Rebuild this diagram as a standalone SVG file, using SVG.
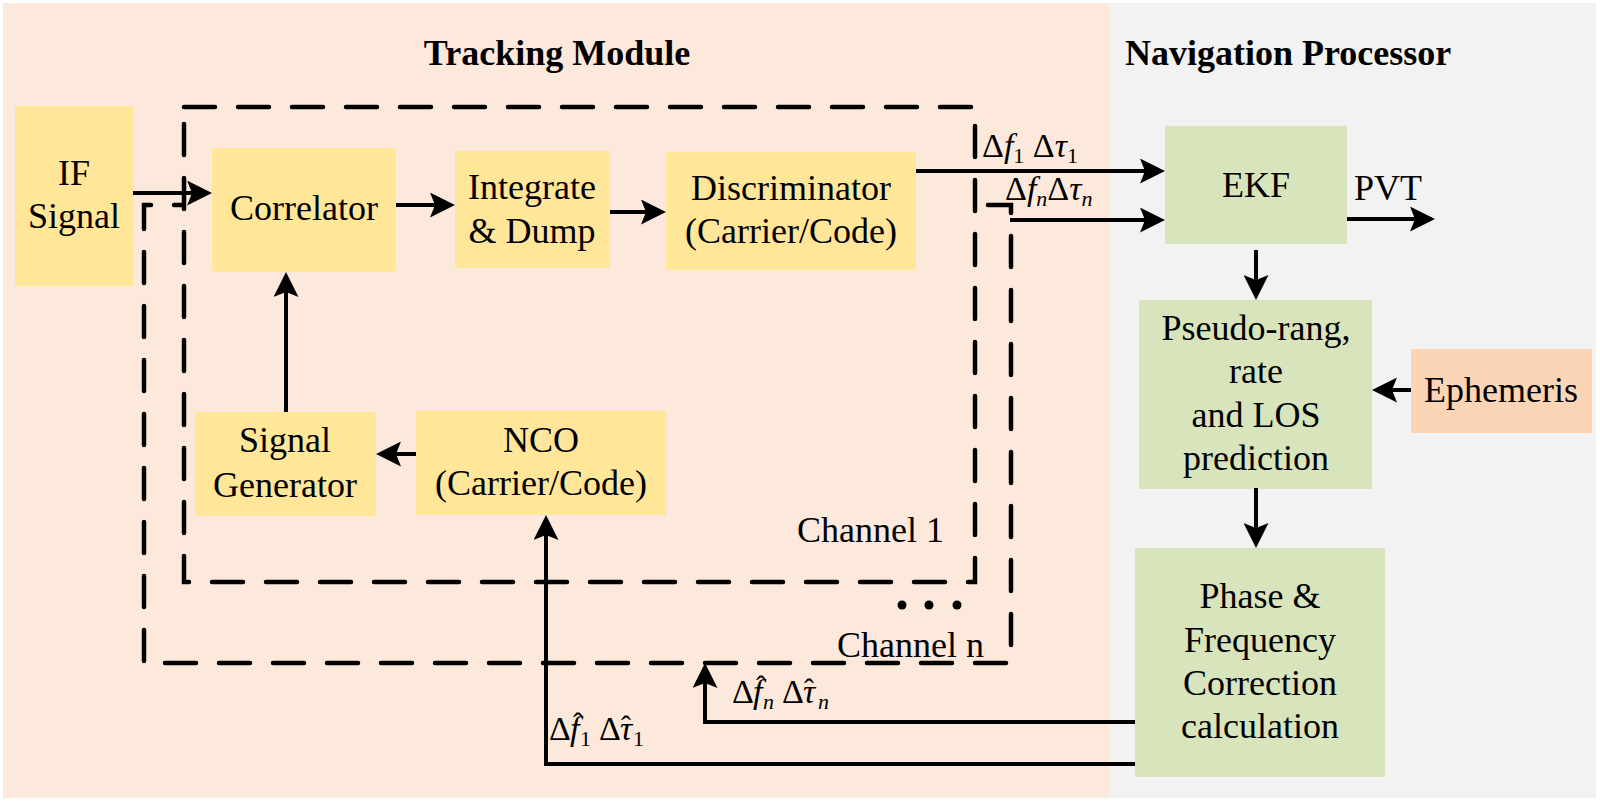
<svg xmlns="http://www.w3.org/2000/svg" width="1600" height="801" viewBox="0 0 1600 801">
<style>
text{font-family:"Liberation Serif","Times New Roman",serif;font-size:36px;fill:#000}
.t{text-anchor:middle}
.title{font-weight:bold;font-size:36px}
.y{fill:#FFE699}
.g{fill:#D8E4BC}
.o{fill:#FBD5B5}
.c{fill:none;stroke:#000;stroke-width:4}
.d{fill:none;stroke:#000;stroke-width:4.5;stroke-dasharray:31 23;stroke-linecap:round}
.m{font-size:34px}
.i{font-style:italic}
.s{font-size:22px}
.h{font-size:30px}
</style>
<defs>
<marker id="ah" viewBox="0 0 25 25" refX="21" refY="12.5" markerWidth="25" markerHeight="25" markerUnits="userSpaceOnUse" orient="auto">
<path d="M0,0 L25,12.5 L0,25 L5,12.5 z" fill="#000"/>
</marker>
</defs>
<rect x="0" y="0" width="1600" height="801" fill="#FFFFFF"/>
<rect x="3" y="3" width="1106" height="795" fill="#FDE9DB"/>
<rect x="1109" y="3" width="487" height="795" fill="#F2F2F2"/>
<text class="title t" x="557" y="65">Tracking Module</text>
<text class="title" x="1125" y="65">Navigation Processor</text>

<g id="channel-frames">
<path class="d" d="M988,205 H1011 V663 H144 V205 H183"/>
<rect class="d" x="184" y="107" width="791" height="475"/>
<circle cx="902" cy="605" r="4.5"/>
<circle cx="929" cy="605" r="4.5"/>
<circle cx="957" cy="605" r="4.5"/>
<text x="797" y="542">Channel 1</text>
<text x="837" y="657">Channel n</text>
</g>

<g id="if-signal">
<rect class="y" x="15" y="106" width="118" height="180"/>
<text class="t" x="74" y="185">IF</text>
<text class="t" x="74" y="228">Signal</text>
</g>
<g id="correlator">
<rect class="y" x="212" y="148" width="184" height="124" rx="3"/>
<text class="t" x="304" y="220">Correlator</text>
</g>
<g id="integrate-dump">
<rect class="y" x="455" y="151" width="155" height="117"/>
<text class="t" x="532" y="199">Integrate</text>
<text class="t" x="532" y="243">&amp; Dump</text>
</g>
<g id="discriminator">
<rect class="y" x="666" y="152" width="250" height="118"/>
<text class="t" x="791" y="200">Discriminator</text>
<text class="t" x="791" y="243">(Carrier/Code)</text>
</g>
<g id="signal-generator">
<rect class="y" x="195" y="412" width="181" height="104"/>
<text class="t" x="285" y="452">Signal</text>
<text class="t" x="285" y="497">Generator</text>
</g>
<g id="nco">
<rect class="y" x="416" y="411" width="250" height="104"/>
<text class="t" x="541" y="452">NCO</text>
<text class="t" x="541" y="495">(Carrier/Code)</text>
</g>
<g id="ekf">
<rect class="g" x="1165" y="126" width="182" height="118"/>
<text class="t" x="1256" y="197">EKF</text>
</g>
<g id="pseudo-range">
<rect class="g" x="1139" y="300" width="233" height="189"/>
<text class="t" x="1256" y="340">Pseudo-rang,</text>
<text class="t" x="1256" y="383">rate</text>
<text class="t" x="1256" y="427">and LOS</text>
<text class="t" x="1256" y="470">prediction</text>
</g>
<g id="ephemeris">
<rect class="o" x="1411" y="349" width="181" height="84"/>
<text class="t" x="1501" y="402">Ephemeris</text>
</g>
<g id="correction">
<rect class="g" x="1135" y="548" width="250" height="229"/>
<text class="t" x="1260" y="608">Phase &amp;</text>
<text class="t" x="1260" y="652">Frequency</text>
<text class="t" x="1260" y="695">Correction</text>
<text class="t" x="1260" y="738">calculation</text>
</g>

<g id="connectors">
<path class="c" marker-end="url(#ah)" d="M133,193 H208"/>
<path class="c" marker-end="url(#ah)" d="M396,205 H451"/>
<path class="c" marker-end="url(#ah)" d="M610,212 H662"/>
<path class="c" marker-end="url(#ah)" d="M916,171 H1161"/>
<path class="c" marker-end="url(#ah)" d="M1010,220 H1161"/>
<path class="c" marker-end="url(#ah)" d="M1347,219 H1431"/>
<path class="c" marker-end="url(#ah)" d="M1256,250 V296"/>
<path class="c" marker-end="url(#ah)" d="M1411,390 H1376"/>
<path class="c" marker-end="url(#ah)" d="M1256,488 V544"/>
<path class="c" marker-end="url(#ah)" d="M1135,764 H546 V519"/>
<path class="c" marker-end="url(#ah)" d="M1135,722 H705 V667"/>
<path class="c" marker-end="url(#ah)" d="M416,454 H380"/>
<path class="c" marker-end="url(#ah)" d="M286,412 V276"/>
<text class="t" x="1388" y="200">PVT</text>
<text class="m" x="982" y="157">Δ<tspan class="i">f</tspan><tspan class="s" dy="6">1</tspan><tspan dy="-6"> Δ</tspan><tspan class="i">τ</tspan><tspan class="s" dy="6">1</tspan></text>
<text class="m" x="1005" y="200">Δ<tspan class="i">f</tspan><tspan class="s i" dy="6">n</tspan><tspan dy="-6">Δ</tspan><tspan class="i">τ</tspan><tspan class="s i" dy="6">n</tspan></text>
<text class="m"><tspan x="732" y="703">Δ</tspan><tspan class="i" x="753" y="703">f</tspan><tspan class="h" x="756" y="696">ˆ</tspan><tspan class="s i" x="763" y="709">n</tspan><tspan x="782" y="703">Δ</tspan><tspan class="i" x="803" y="703">τ</tspan><tspan class="h" x="804" y="699">ˆ</tspan><tspan class="s i" x="818" y="709">n</tspan></text>
<text class="m"><tspan x="549" y="740">Δ</tspan><tspan class="i" x="570" y="740">f</tspan><tspan class="h" x="573" y="733">ˆ</tspan><tspan class="s" x="580" y="746">1</tspan><tspan x="599" y="740">Δ</tspan><tspan class="i" x="620" y="740">τ</tspan><tspan class="h" x="621" y="736">ˆ</tspan><tspan class="s" x="633" y="746">1</tspan></text>
</g>
</svg>
